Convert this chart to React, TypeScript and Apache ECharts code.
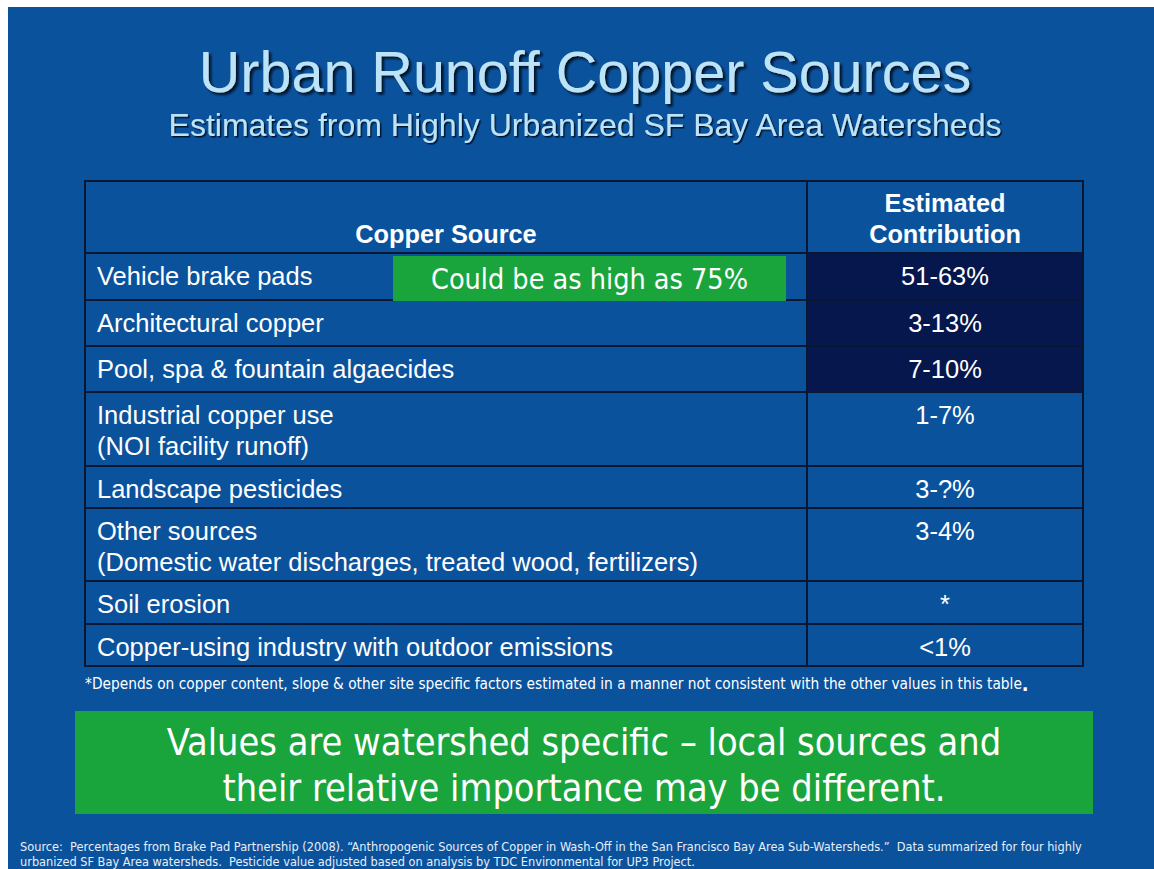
import React, { useEffect, useRef } from "react";
import * as echarts from "echarts";

// ---- Data ----
const titleText = "Urban Runoff Copper Sources";
const subtitleText = "Estimates from Highly Urbanized SF Bay Area Watersheds";
const headers = ["Copper Source", "Estimated\nContribution"];
const sources = [
  "Vehicle brake pads",
  "Architectural copper",
  "Pool, spa & fountain algaecides",
  "Industrial copper use\n(NOI facility runoff)",
  "Landscape pesticides",
  "Other sources\n(Domestic water discharges, treated wood, fertilizers)",
  "Soil erosion",
  "Copper-using industry with outdoor emissions",
];
const contributions = ["51-63%", "3-13%", "7-10%", "1-7%", "3-?%", "3-4%", "*", "<1%"];
const highlighted = [true, true, true, false, false, false, false, false];
const calloutText = "Could be as high as 75%";
const footnoteText =
  "*Depends on copper content, slope & other site specific factors estimated in a manner not consistent with the other values in this table";
const messageLines = [
  "Values are watershed specific \u2013 local sources and",
  "their relative importance may be different.",
];
const sourceLines = [
  "Source:  Percentages from Brake Pad Partnership (2008). \u201cAnthropogenic Sources of Copper in Wash-Off in the San Francisco Bay Area Sub-Watersheds.\u201d  Data summarized for four highly",
  "urbanized SF Bay Area watersheds.  Pesticide value adjusted based on analysis by TDC Environmental for UP3 Project.",
];

// ---- Layout / style ----
const W = 1154;
const H = 869;
const BLUE = "#0B529D";
const DARK = "#05174C";
const GREEN = "#1AA53C";
const LINE = "#0A1733";
const TITLE = "#BCE3F7";
const ARIAL = '"Liberation Sans", Arial, sans-serif';
const TAHOMA = '"DejaVu Sans Condensed", "DejaVu Sans", sans-serif';
const tableLeft = 85;
const tableRight = 1083;
const tableTop = 181;
const colDiv = 807;
const rowEdges = [253, 300, 346, 392, 466, 508, 581, 624, 666];
const BODY = 25.5;

function buildGraphic() {
  const els: any[] = [];
  els.push({ type: "rect", shape: { x: 0, y: 0, width: W, height: H }, style: { fill: "#ffffff" } });
  els.push({ type: "rect", shape: { x: 8, y: 7, width: W - 8, height: H - 7 }, style: { fill: BLUE } });

  els.push({
    type: "text",
    style: { text: titleText, x: 585, y: 72, fill: TITLE, fontSize: 57.5, fontFamily: ARIAL, textAlign: "center", textVerticalAlign: "middle", verticalAlign: "middle", textShadowColor: "rgba(3,10,30,0.95)", textShadowBlur: 2, textShadowOffsetX: 2.5, textShadowOffsetY: 2.5 },
  });
  els.push({
    type: "text",
    style: { text: subtitleText, x: 585, y: 125, fill: TITLE, fontSize: 32, fontFamily: ARIAL, textAlign: "center", textVerticalAlign: "middle", verticalAlign: "middle", textShadowColor: "rgba(3,10,30,0.9)", textShadowBlur: 1, textShadowOffsetX: 1.5, textShadowOffsetY: 1.5 },
  });

  // dark cells
  rowEdges.slice(0, -1).forEach((top, i) => {
    if (highlighted[i]) {
      els.push({ type: "rect", shape: { x: colDiv, y: top, width: tableRight - colDiv, height: rowEdges[i + 1] - top }, style: { fill: DARK } });
    }
  });

  // grid lines
  const ls = { stroke: LINE, lineWidth: 2 };
  els.push({ type: "rect", shape: { x: tableLeft, y: tableTop, width: tableRight - tableLeft, height: rowEdges[rowEdges.length - 1] - tableTop }, style: { fill: "none", ...ls } });
  rowEdges.slice(0, -1).forEach((y) => {
    els.push({ type: "line", shape: { x1: tableLeft, y1: y, x2: tableRight, y2: y }, style: ls });
  });
  els.push({ type: "line", shape: { x1: colDiv, y1: tableTop, x2: colDiv, y2: rowEdges[rowEdges.length - 1] }, style: ls });

  // headers
  els.push({
    type: "text",
    style: { text: headers[0], x: (tableLeft + colDiv) / 2, y: rowEdges[0] - 4, fill: "#fff", fontSize: 25.3, fontWeight: "bold", fontFamily: ARIAL, lineHeight: 31, textAlign: "center", textVerticalAlign: "bottom", verticalAlign: "bottom" },
  });
  els.push({
    type: "text",
    style: { text: headers[1], x: (colDiv + tableRight) / 2, y: rowEdges[0] - 4, fill: "#fff", fontSize: 25.3, fontWeight: "bold", fontFamily: ARIAL, lineHeight: 31, textAlign: "center", textVerticalAlign: "bottom", verticalAlign: "bottom" },
  });

  // rows
  sources.forEach((s, i) => {
    const top = rowEdges[i];
    els.push({
      type: "text",
      style: { text: s, x: tableLeft + 12, y: top + 7.5, fill: "#fff", fontSize: BODY, fontFamily: ARIAL, lineHeight: 31, textAlign: "left", textVerticalAlign: "top", verticalAlign: "top" },
    });
    els.push({
      type: "text",
      style: { text: contributions[i], x: (colDiv + tableRight) / 2, y: top + 7.5, fill: "#fff", fontSize: BODY, fontFamily: ARIAL, lineHeight: 31, textAlign: "center", textVerticalAlign: "top", verticalAlign: "top" },
    });
  });

  // callout
  els.push({ type: "rect", shape: { x: 393, y: 256, width: 393, height: 45 }, style: { fill: GREEN } });
  els.push({
    type: "text",
    style: { text: calloutText, x: 589.5, y: 279, fill: "#fff", fontSize: 28.5, fontFamily: TAHOMA, textAlign: "center", textVerticalAlign: "middle", verticalAlign: "middle" },
  });

  // footnote
  els.push({
    type: "text",
    style: {
      text: "{a|" + footnoteText + "}{b|.}",
      x: 85, y: 684, fill: "#fff", textAlign: "left", textVerticalAlign: "middle", verticalAlign: "middle",
      rich: {
        a: { fontSize: 15.3, fontFamily: TAHOMA, fill: "#fff" },
        b: { fontSize: 20, fontWeight: "bold", fontFamily: TAHOMA, fill: "#fff" },
      },
    },
  });

  // message box
  els.push({ type: "rect", shape: { x: 75, y: 711, width: 1018, height: 103 }, style: { fill: GREEN } });
  messageLines.forEach((t, i) => {
    els.push({
      type: "text",
      style: { text: t, x: 584, y: 742 + i * 46, fill: "#fff", fontSize: 37.6, fontFamily: TAHOMA, textAlign: "center", textVerticalAlign: "middle", verticalAlign: "middle" },
    });
  });

  // source
  sourceLines.forEach((t, i) => {
    els.push({
      type: "text",
      style: { text: t, x: 20, y: 846 + i * 15, fill: "#E6EEF8", fontSize: 12.65, fontFamily: TAHOMA, textAlign: "left", textVerticalAlign: "middle", verticalAlign: "middle" },
    });
  });

  return els;
}

export default function App() {
  const ref = useRef<HTMLDivElement>(null);
  useEffect(() => {
    document.body.style.margin = "0";
    if (!ref.current) return;
    const chart = echarts.init(ref.current, null, { renderer: "svg" });
    chart.setOption({
      animation: false,
      graphic: { elements: buildGraphic() },
    });
    return () => chart.dispose();
  }, []);
  return <div ref={ref} style={{ width: W, height: H }} />;
}
